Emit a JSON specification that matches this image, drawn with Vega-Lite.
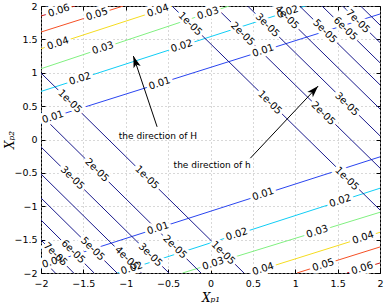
{
  "$schema": "https://vega.github.io/schema/vega-lite/v6.json",
  "width": 339,
  "height": 267,
  "autosize": {"type": "none"},
  "padding": {"left": 41, "top": 6, "right": 4, "bottom": 33},
  "background": "white",
  "config": {"view": {"stroke": "black", "strokeWidth": 1}, "font": "DejaVu Sans"},
  "datasets": {
    "linesA": [
      {"id": "a6u", "level": "0.06", "x": -2, "y": 1.85}, {"id": "a6u", "level": "0.06", "x": -1.6, "y": 2},
      {"id": "a5u", "level": "0.05", "x": -2, "y": 1.61}, {"id": "a5u", "level": "0.05", "x": -1.03, "y": 2},
      {"id": "a4u", "level": "0.04", "x": -2, "y": 1.36}, {"id": "a4u", "level": "0.04", "x": -0.45, "y": 2},
      {"id": "a3u", "level": "0.03", "x": -2, "y": 1.06}, {"id": "a3u", "level": "0.03", "x": 0.22, "y": 2},
      {"id": "a2u", "level": "0.02", "x": -2, "y": 0.72}, {"id": "a2u", "level": "0.02", "x": 1.12, "y": 2},
      {"id": "a1u", "level": "0.01", "x": -2, "y": 0.28}, {"id": "a1u", "level": "0.01", "x": 2, "y": 1.88},
      {"id": "a1l", "level": "0.01", "x": -2, "y": -1.89}, {"id": "a1l", "level": "0.01", "x": 2, "y": -0.26},
      {"id": "a2l", "level": "0.02", "x": -1.1, "y": -2}, {"id": "a2l", "level": "0.02", "x": 2, "y": -0.73},
      {"id": "a3l", "level": "0.03", "x": -0.33, "y": -2}, {"id": "a3l", "level": "0.03", "x": 2, "y": -1.09},
      {"id": "a4l", "level": "0.04", "x": 0.47, "y": -2}, {"id": "a4l", "level": "0.04", "x": 2, "y": -1.39},
      {"id": "a5l", "level": "0.05", "x": 1.02, "y": -2}, {"id": "a5l", "level": "0.05", "x": 2, "y": -1.61},
      {"id": "a6l", "level": "0.06", "x": 1.61, "y": -2}, {"id": "a6l", "level": "0.06", "x": 2, "y": -1.85}
    ],
    "linesB": [
      {"id": "r1", "x": -0.454, "y": 2}, {"id": "r1", "x": 2, "y": -1.056},
      {"id": "r2", "x": 0.048, "y": 2}, {"id": "r2", "x": 2, "y": -0.428},
      {"id": "r3", "x": 0.438, "y": 2}, {"id": "r3", "x": 2, "y": 0.055},
      {"id": "r4", "x": 0.761, "y": 2}, {"id": "r4", "x": 2, "y": 0.458},
      {"id": "r5", "x": 1.051, "y": 2}, {"id": "r5", "x": 2, "y": 0.819},
      {"id": "r6", "x": 1.316, "y": 2}, {"id": "r6", "x": 2, "y": 1.149},
      {"id": "r7", "x": 1.559, "y": 2}, {"id": "r7", "x": 2, "y": 1.452},
      {"id": "r8", "x": 1.771, "y": 2}, {"id": "r8", "x": 2, "y": 1.715},
      {"id": "l1", "x": -2, "y": 0.996}, {"id": "l1", "x": 0.395, "y": -2},
      {"id": "l2", "x": -2, "y": 0.367}, {"id": "l2", "x": -0.112, "y": -2},
      {"id": "l3", "x": -2, "y": -0.112}, {"id": "l3", "x": -0.49, "y": -2},
      {"id": "l4", "x": -2, "y": -0.517}, {"id": "l4", "x": -0.813, "y": -2},
      {"id": "l5", "x": -2, "y": -0.876}, {"id": "l5", "x": -1.103, "y": -2},
      {"id": "l6", "x": -2, "y": -1.206}, {"id": "l6", "x": -1.373, "y": -2},
      {"id": "l7", "x": -2, "y": -1.506}, {"id": "l7", "x": -1.614, "y": -2},
      {"id": "l8", "x": -2, "y": -1.775}, {"id": "l8", "x": -1.831, "y": -2}
    ],
    "labelsA": [
      {"t": "0.06", "x": -1.79, "y": 1.93},
      {"t": "0.05", "x": -1.34, "y": 1.875},
      {"t": "0.04", "x": -1.8, "y": 1.44},
      {"t": "0.04", "x": -0.62, "y": 1.93},
      {"t": "0.03", "x": -1.27, "y": 1.37},
      {"t": "0.03", "x": -0.03, "y": 1.89},
      {"t": "0.02", "x": -1.54, "y": 0.91},
      {"t": "0.02", "x": -0.34, "y": 1.4},
      {"t": "0.02", "x": 0.91, "y": 1.91},
      {"t": "0.01", "x": -1.86, "y": 0.336},
      {"t": "0.01", "x": -0.6, "y": 0.84},
      {"t": "0.01", "x": 0.62, "y": 1.33},
      {"t": "0.01", "x": -1.86, "y": -1.83},
      {"t": "0.01", "x": -0.62, "y": -1.33},
      {"t": "0.01", "x": 0.62, "y": -0.82},
      {"t": "0.02", "x": -0.93, "y": -1.93},
      {"t": "0.02", "x": 0.31, "y": -1.42},
      {"t": "0.02", "x": 1.53, "y": -0.92},
      {"t": "0.03", "x": 0.03, "y": -1.86},
      {"t": "0.03", "x": 1.26, "y": -1.38},
      {"t": "0.04", "x": 0.62, "y": -1.94},
      {"t": "0.04", "x": 1.8, "y": -1.47},
      {"t": "0.05", "x": 1.33, "y": -1.88},
      {"t": "0.06", "x": 1.79, "y": -1.93}
    ],
    "labelsB": [
      {"t": "1e-05", "x": -1.66, "y": 0.57},
      {"t": "1e-05", "x": -0.75, "y": -0.57},
      {"t": "1e-05", "x": 0.15, "y": -1.7},
      {"t": "1e-05", "x": -0.24, "y": 1.73},
      {"t": "1e-05", "x": 0.7, "y": 0.553},
      {"t": "1e-05", "x": 1.61, "y": -0.588},
      {"t": "2e-05", "x": 0.38, "y": 1.58},
      {"t": "2e-05", "x": 1.33, "y": 0.39},
      {"t": "3e-05", "x": 0.67, "y": 1.71},
      {"t": "3e-05", "x": 1.61, "y": 0.53},
      {"t": "4e-05", "x": 0.9, "y": 1.83},
      {"t": "5e-05", "x": 1.35, "y": 1.62},
      {"t": "6e-05", "x": 1.59, "y": 1.66},
      {"t": "7e-05", "x": 1.74, "y": 1.77},
      {"t": "2e-05", "x": -1.34, "y": -0.46},
      {"t": "3e-05", "x": -1.63, "y": -0.576},
      {"t": "2e-05", "x": -0.42, "y": -1.61},
      {"t": "3e-05", "x": -0.71, "y": -1.73},
      {"t": "4e-05", "x": -0.99, "y": -1.78},
      {"t": "5e-05", "x": -1.39, "y": -1.64},
      {"t": "6e-05", "x": -1.62, "y": -1.68},
      {"t": "7e-05", "x": -1.83, "y": -1.72}
    ],
    "arrows": [
      {"name": "H", "x": -0.63, "y": 0.19, "x2": -0.91, "y2": 1.25, "text": "the direction of H", "tx": -0.62, "ty": 0.052},
      {"name": "h", "x": 0.47, "y": -0.28, "x2": 1.27, "y2": 0.8, "text": "the direction of h", "tx": 0.02, "ty": -0.38}
    ]
  },
  "resolve": {"axis": {"x": "independent", "y": "independent"}},
  "layer": [
    {
      "data": {"name": "linesA"},
      "mark": {"type": "line", "strokeWidth": 1, "clip": true},
      "encoding": {
        "x": {"field": "x", "type": "quantitative",
          "scale": {"domain": [-2, 2], "nice": false, "zero": false},
          "axis": {"values": [-2, -1.5, -1, -0.5, 0, 0.5, 1, 1.5, 2], "format": "~g", "grid": true, "gridColor": "#b0b0b0", "gridDash": [1, 3], "tickSize": -4, "tickColor": "black", "domain": false, "labelPadding": 9, "labelFontSize": 9.5, "labelColor": "black", "labelFlush": false, "labelOverlap": false, "title": "X\u209a\u2081", "titleFont": "DejaVu Serif", "titleFontStyle": "italic", "titleFontWeight": "normal", "titleFontSize": 12, "titleColor": "black", "titleY": 19}},
        "y": {"field": "y", "type": "quantitative",
          "scale": {"domain": [-2, 2], "nice": false, "zero": false},
          "axis": {"values": [-2, -1.5, -1, -0.5, 0, 0.5, 1, 1.5, 2], "format": "~g", "grid": true, "gridColor": "#b0b0b0", "gridDash": [1, 3], "tickSize": -4, "tickColor": "black", "domain": false, "labelPadding": 8, "labelFontSize": 9.5, "labelColor": "black", "labelFlush": false, "labelOverlap": false, "title": "X\u209a\u2082", "titleFont": "DejaVu Serif", "titleFontStyle": "italic", "titleFontWeight": "normal", "titleFontSize": 12, "titleColor": "black", "titleX": -25, "titleY": 133.5}},
        "detail": {"field": "id"},
        "color": {"field": "level", "type": "nominal", "legend": null,
          "scale": {"domain": ["0.01", "0.02", "0.03", "0.04", "0.05", "0.06"], "range": ["#2a45f0", "#10cdf5", "#80f080", "#f5dc20", "#f55025", "#c81818"]}}
      }
    },
    {
      "data": {"name": "linesB"},
      "mark": {"type": "line", "strokeWidth": 1, "color": "#1a1a8c", "clip": true},
      "encoding": {
        "x": {"field": "x", "type": "quantitative", "axis": {"orient": "top", "values": [-2, -1.5, -1, -0.5, 0, 0.5, 1, 1.5, 2], "labels": false, "grid": false, "domain": false, "tickSize": -4, "tickColor": "black", "title": null}},
        "y": {"field": "y", "type": "quantitative", "axis": {"orient": "right", "values": [-2, -1.5, -1, -0.5, 0, 0.5, 1, 1.5, 2], "labels": false, "grid": false, "domain": false, "tickSize": -4, "tickColor": "black", "title": null}},
        "detail": {"field": "id"}
      }
    },
    {
      "data": {"name": "labelsA"},
      "mark": {"type": "text", "angle": 342.1, "fontSize": 10, "fill": "white", "stroke": "white", "strokeWidth": 6, "align": "center", "baseline": "middle"},
      "encoding": {"x": {"field": "x", "type": "quantitative", "axis": null}, "y": {"field": "y", "type": "quantitative", "axis": null}, "text": {"field": "t"}}
    },
    {
      "data": {"name": "labelsB"},
      "mark": {"type": "text", "angle": 44.6, "fontSize": 10, "fill": "white", "stroke": "white", "strokeWidth": 6, "align": "center", "baseline": "middle"},
      "encoding": {"x": {"field": "x", "type": "quantitative", "axis": null}, "y": {"field": "y", "type": "quantitative", "axis": null}, "text": {"field": "t"}}
    },
    {
      "data": {"name": "labelsA"},
      "mark": {"type": "text", "angle": 342.1, "fontSize": 10, "fill": "black", "align": "center", "baseline": "middle"},
      "encoding": {"x": {"field": "x", "type": "quantitative", "axis": null}, "y": {"field": "y", "type": "quantitative", "axis": null}, "text": {"field": "t"}}
    },
    {
      "data": {"name": "labelsB"},
      "mark": {"type": "text", "angle": 44.6, "fontSize": 10, "fill": "black", "align": "center", "baseline": "middle"},
      "encoding": {"x": {"field": "x", "type": "quantitative", "axis": null}, "y": {"field": "y", "type": "quantitative", "axis": null}, "text": {"field": "t"}}
    },
    {
      "data": {"name": "arrows"},
      "mark": {"type": "rule", "color": "black", "strokeWidth": 1},
      "encoding": {"x": {"field": "x", "type": "quantitative", "axis": null}, "y": {"field": "y", "type": "quantitative", "axis": null}, "x2": {"field": "x2"}, "y2": {"field": "y2"}}
    },
    {
      "data": {"name": "arrows"},
      "transform": [{"filter": "datum.name === 'H'"}],
      "mark": {"type": "point", "shape": "M0,0L0.45,1.4L0,1.05L-0.45,1.4Z", "size": 280, "filled": true, "color": "black", "opacity": 1, "angle": 341.3},
      "encoding": {"x": {"field": "x2", "type": "quantitative", "axis": null}, "y": {"field": "y2", "type": "quantitative", "axis": null}}
    },
    {
      "data": {"name": "arrows"},
      "transform": [{"filter": "datum.name === 'h'"}],
      "mark": {"type": "point", "shape": "M0,0L0.45,1.4L0,1.05L-0.45,1.4Z", "size": 280, "filled": true, "color": "black", "opacity": 1, "angle": 43.4},
      "encoding": {"x": {"field": "x2", "type": "quantitative", "axis": null}, "y": {"field": "y2", "type": "quantitative", "axis": null}}
    },
    {
      "data": {"name": "arrows"},
      "mark": {"type": "text", "fontSize": 9, "color": "black", "align": "center", "baseline": "middle"},
      "encoding": {"x": {"field": "tx", "type": "quantitative", "axis": null}, "y": {"field": "ty", "type": "quantitative", "axis": null}, "text": {"field": "text"}}
    }
  ]
}
